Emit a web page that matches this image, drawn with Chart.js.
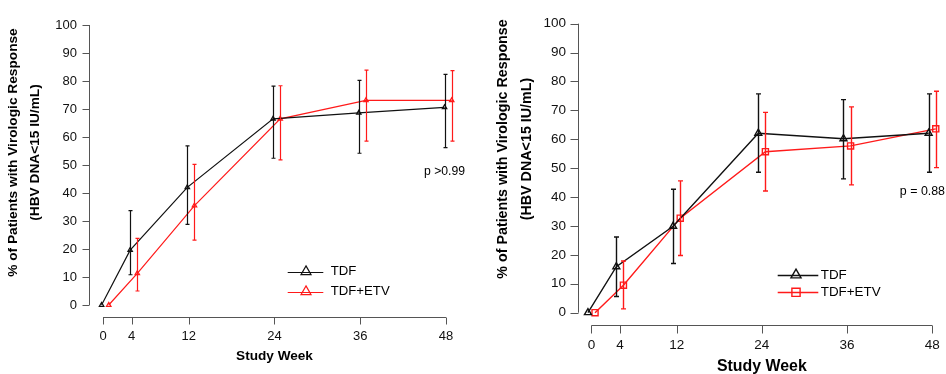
<!DOCTYPE html>
<html>
<head>
<meta charset="utf-8">
<script src="https://cdn.jsdelivr.net/npm/chart.js@4/dist/chart.umd.min.js"></script>
<style>
  html, body { margin: 0; padding: 0; background: #fff; }
  #wrap { position: relative; width: 946px; height: 374px; overflow: hidden; }
  canvas { position: absolute; top: 0; }
  #left { left: 0; }
  #right { left: 490px; }
</style>
</head>
<body>
<div id="wrap">
  <canvas id="left" width="490" height="374"></canvas>
  <canvas id="right" width="456" height="374"></canvas>
</div>
<script>
var weeks = [0, 4, 12, 24, 36, 48];
var yTickValues = [0, 10, 20, 30, 40, 50, 60, 70, 80, 90, 100];
var seriesNames = ['TDF', 'TDF+ETV'];

// left panel
var leftTdf = [0, 19.6, 42, 66.5, 68.6, 70.6];
var leftTdfLo = [0, 10.8, 28.8, 52.4, 54.2, 56.2];
var leftTdfHi = [0, 33.7, 56.8, 78.2, 80.2, 82.4];
var leftCombo = [0, 11.3, 35.5, 66.5, 73.1, 73.1];
var leftComboLo = [0, 5, 23.2, 51.8, 58.5, 58.5];
var leftComboHi = [0, 23.8, 50.2, 78.3, 83.9, 83.7];
var leftP = 'p >0.99';

// right panel
var rightTdf = [0, 15.9, 29.9, 62.1, 60.2, 62.1];
var rightTdfLo = [0, 5.6, 17, 48.6, 46.3, 48.6];
var rightTdfHi = [0, 26.2, 42.7, 75.7, 73.7, 75.7];
var rightCombo = [0, 9.5, 32.7, 55.7, 57.7, 63.6];
var rightComboLo = [0, 1.3, 19.8, 42.1, 44.2, 50.2];
var rightComboHi = [0, 17.9, 45.6, 69.3, 71.2, 76.6];
var rightP = 'p = 0.88';

var yTitle = ['% of Patients with Virologic Response', '(HBV DNA<15 IU/mL)'];
var xTitle = 'Study Week';

var FONT = '"Liberation Sans", Arial, sans-serif';
var BLACK = '#111111';
var RED = '#ff1a1a';
var AXIS = '#555555';

function points(vals, shift) {
  return vals.map(function (v, i) { return { x: weeks[i] + shift, y: v }; });
}

function drawMarker(ctx, style, r, x, y, color, lw) {
  ctx.save();
  ctx.strokeStyle = color;
  ctx.fillStyle = 'rgba(0,0,0,0)';
  ctx.lineWidth = lw;
  if (Chart.helpers && Chart.helpers.drawPoint) {
    Chart.helpers.drawPoint(ctx, { pointStyle: style, radius: r, rotation: 0, borderWidth: lw }, x, y);
  } else {
    ctx.beginPath();
    if (style === 'rect') {
      var s = r * Math.SQRT1_2;
      ctx.rect(x - s, y - s, 2 * s, 2 * s);
    } else {
      ctx.moveTo(x, y - r);
      ctx.lineTo(x + r * 0.866, y + r / 2);
      ctx.lineTo(x - r * 0.866, y + r / 2);
      ctx.closePath();
    }
    ctx.stroke();
  }
  ctx.restore();
}

var panelPlugin = {
  id: 'panelPlugin',
  afterDatasetsDraw: function (chart) {
    var cfg = chart.options.plugins.panelPlugin;
    var ctx = chart.ctx, xs = chart.scales.x, ys = chart.scales.y;
    ctx.save();
    ctx.lineWidth = cfg.lw;
    cfg.bars.forEach(function (b) {
      ctx.strokeStyle = b.color;
      for (var i = 0; i < weeks.length; i++) {
        if (b.hi[i] === b.lo[i]) continue;
        var px = Math.round(xs.getPixelForValue(weeks[i] + b.shift)) + 0.5;
        var top = ys.getPixelForValue(b.hi[i]);
        var bot = ys.getPixelForValue(b.lo[i]);
        ctx.beginPath();
        ctx.moveTo(px, top); ctx.lineTo(px, bot);
        ctx.moveTo(px - cfg.cap, top); ctx.lineTo(px + cfg.cap, top);
        ctx.moveTo(px - cfg.cap, bot); ctx.lineTo(px + cfg.cap, bot);
        ctx.stroke();
      }
    });
    ctx.restore();
  },
  afterDraw: function (chart) {
    var cfg = chart.options.plugins.panelPlugin;
    var ctx = chart.ctx, xs = chart.scales.x, ys = chart.scales.y;
    var area = chart.chartArea;
    ctx.save();
    ctx.strokeStyle = AXIS;
    ctx.lineWidth = 1;

    // y axis, R style: from first to last tick
    var ax = Math.round(area.left) + 0.5;
    ctx.beginPath();
    ctx.moveTo(ax, ys.getPixelForValue(0));
    ctx.lineTo(ax, ys.getPixelForValue(100));
    yTickValues.forEach(function (v) {
      var py = Math.round(ys.getPixelForValue(v)) + 0.5;
      ctx.moveTo(ax, py); ctx.lineTo(ax - cfg.tickLen, py);
    });
    ctx.stroke();

    // x axis
    var ay = Math.round(area.bottom) + 0.5;
    ctx.beginPath();
    ctx.moveTo(xs.getPixelForValue(0), ay);
    ctx.lineTo(xs.getPixelForValue(48), ay);
    weeks.forEach(function (w) {
      var px = Math.round(xs.getPixelForValue(w)) + 0.5;
      ctx.moveTo(px, ay); ctx.lineTo(px, ay + cfg.tickLen);
    });
    ctx.stroke();

    // axis titles
    ctx.fillStyle = '#000';
    ctx.textAlign = 'center';
    ctx.textBaseline = 'middle';
    ctx.font = 'bold ' + cfg.xTitleSize + 'px ' + FONT;
    ctx.fillText(xTitle, xs.getPixelForValue(24), cfg.xTitleY);

    ctx.font = 'bold ' + cfg.yTitleSize + 'px ' + FONT;
    yTitle.forEach(function (t, i) {
      ctx.save();
      ctx.translate(cfg.yTitleX[i], cfg.yTitleY);
      ctx.rotate(-Math.PI / 2);
      ctx.fillText(t, 0, 0);
      ctx.restore();
    });

    // p value
    ctx.font = cfg.pSize + 'px ' + FONT;
    ctx.textAlign = 'right';
    ctx.fillText(cfg.pText, cfg.pX, cfg.pY);

    // legend
    ctx.font = cfg.legSize + 'px ' + FONT;
    ctx.textAlign = 'left';
    ctx.lineWidth = cfg.lw;
    chart.data.datasets.forEach(function (ds, i) {
      var y = cfg.legY[i];
      ctx.strokeStyle = ds.borderColor;
      ctx.beginPath();
      ctx.moveTo(cfg.legX0, Math.round(y) + 0.5);
      ctx.lineTo(cfg.legX1, Math.round(y) + 0.5);
      ctx.stroke();
      drawMarker(ctx, ds.pointStyle, cfg.legR, cfg.legMarkX, y, ds.borderColor, cfg.lw);
      ctx.fillStyle = '#000';
      ctx.fillText(ds.label, cfg.legTextX, y);
    });
    ctx.restore();
  }
};

function makePanel(id, d) {
  var ctx = document.getElementById(id).getContext('2d');
  function ds(label, vals, shift, color, style, r) {
    return {
      label: label,
      data: points(vals, shift),
      borderColor: color,
      borderWidth: d.deco.lw,
      pointStyle: style,
      pointRadius: r,
      pointBorderColor: color,
      pointBackgroundColor: 'rgba(0,0,0,0)',
      pointBorderWidth: d.deco.lw,
      tension: 0,
      fill: false,
      clip: false
    };
  }
  return new Chart(ctx, {
    type: 'line',
    data: {
      datasets: [
        ds(seriesNames[0], d.tdf, d.shiftA, BLACK, 'triangle', d.rA),
        ds(seriesNames[1], d.combo, d.shiftB, RED, d.styleB, d.rB)
      ]
    },
    options: {
      responsive: false,
      animation: false,
      devicePixelRatio: 1,
      layout: { padding: { left: 0, right: d.padR, top: d.padT, bottom: 0 } },
      plugins: {
        legend: { display: false },
        tooltip: { enabled: false },
        panelPlugin: d.deco
      },
      scales: {
        x: {
          type: 'linear',
          min: d.xMin,
          max: d.xMax,
          afterBuildTicks: function (s) { s.ticks = weeks.map(function (v) { return { value: v }; }); },
          afterFit: function (s) { s.height = d.xAxisH; },
          grid: { display: false },
          border: { display: false },
          ticks: { autoSkip: false, maxRotation: 0, padding: d.xTickPad, color: '#111', font: { family: FONT, size: d.tickSize } }
        },
        y: {
          type: 'linear',
          min: d.yMin,
          max: 104,
          afterBuildTicks: function (s) { s.ticks = yTickValues.map(function (v) { return { value: v }; }); },
          afterFit: function (s) { s.width = d.yAxisW; },
          grid: { display: false },
          border: { display: false },
          ticks: { padding: 4, color: '#111', font: { family: FONT, size: d.tickSize } }
        }
      }
    },
    plugins: [panelPlugin]
  });
}

makePanel('left', {
  tdf: leftTdf, combo: leftCombo, shiftA: -0.2, shiftB: 0.8,
  styleB: 'triangle', rA: 2.6, rB: 2.6,
  padR: 20, padT: 13.8, xMin: -1.96, xMax: 51.36, yMin: -4.29,
  xAxisH: 57, yAxisW: 89, xTickPad: 3.5, tickSize: 13,
  deco: {
    bars: [
      { lo: leftTdfLo, hi: leftTdfHi, shift: -0.2, color: BLACK },
      { lo: leftComboLo, hi: leftComboHi, shift: 0.8, color: RED }
    ],
    lw: 1.2, cap: 2, tickLen: 7,
    xTitleSize: 13.6, xTitleY: 356.7,
    yTitleSize: 13.7, yTitleX: [13, 35], yTitleY: 152.5,
    pText: leftP, pSize: 12.2, pX: 465, pY: 171.7,
    legSize: 13.2, legY: [271.7, 291.7], legX0: 287.7, legX1: 323.3, legMarkX: 306, legR: 5.8, legTextX: 330.7
  }
});

makePanel('right', {
  tdf: rightTdf, combo: rightCombo, shiftA: -0.5, shiftB: 0.5,
  styleB: 'rect', rA: 4, rB: 4.3,
  padR: 0, padT: 3.1, xMin: -1.9, xMax: 49.14, yMin: -4.27,
  xAxisH: 49, yAxisW: 88, xTickPad: 4, tickSize: 13.5,
  deco: {
    bars: [
      { lo: rightTdfLo, hi: rightTdfHi, shift: -0.5, color: BLACK },
      { lo: rightComboLo, hi: rightComboHi, shift: 0.5, color: RED }
    ],
    lw: 1.4, cap: 2.5, tickLen: 8,
    xTitleSize: 15.9, xTitleY: 366.7,
    yTitleSize: 14.3, yTitleX: [13, 37], yTitleY: 149,
    pText: rightP, pSize: 12.4, pX: 455, pY: 191.7,
    legSize: 13.4, legY: [275, 292.3], legX0: 287.7, legX1: 328.3, legMarkX: 306, legR: 5.8, legTextX: 330.7
  }
});
</script>
</body>
</html>
